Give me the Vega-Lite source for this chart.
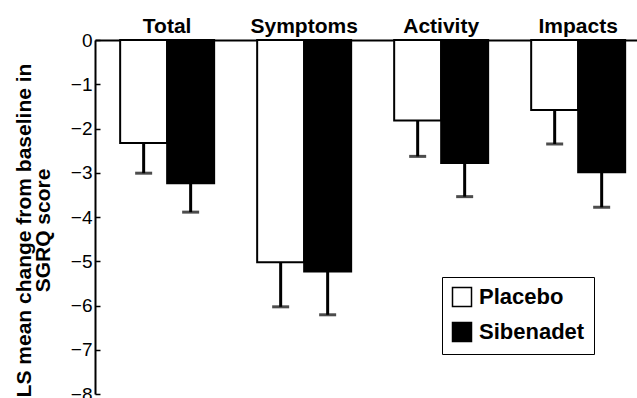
{
  "$schema": "https://vega.github.io/schema/vega-lite/v6.json",
  "autosize": {"type": "none"},
  "padding": {"left": 95, "top": 40, "right": 0, "bottom": 4},
  "width": 542,
  "height": 354,
  "background": "white",
  "config": {
    "view": {"stroke": null},
    "font": "Liberation Sans"
  },
  "data": {
    "values": [
      {"Domain": "Total", "Treatment": "Placebo", "Mean": -2.33, "Lower": -3.01},
      {"Domain": "Total", "Treatment": "Sibenadet", "Mean": -3.24, "Lower": -3.89},
      {"Domain": "Symptoms", "Treatment": "Placebo", "Mean": -5.02, "Lower": -6.03},
      {"Domain": "Symptoms", "Treatment": "Sibenadet", "Mean": -5.23, "Lower": -6.21},
      {"Domain": "Activity", "Treatment": "Placebo", "Mean": -1.82, "Lower": -2.63},
      {"Domain": "Activity", "Treatment": "Sibenadet", "Mean": -2.78, "Lower": -3.54},
      {"Domain": "Impacts", "Treatment": "Placebo", "Mean": -1.58, "Lower": -2.35},
      {"Domain": "Impacts", "Treatment": "Sibenadet", "Mean": -2.99, "Lower": -3.78}
    ]
  },
  "encoding": {
    "x": {
      "field": "Domain",
      "type": "nominal",
      "sort": ["Total", "Symptoms", "Activity", "Impacts"],
      "scale": {"paddingInner": 0.314, "paddingOuter": 0.135, "align": 0.68},
      "axis": {
        "orient": "top",
        "title": null,
        "labelAngle": 0,
        "ticks": false,
        "domainColor": "black",
        "domainWidth": 2,
        "labelFont": "Liberation Sans",
        "labelFontSize": 21,
        "labelFontWeight": "bold",
        "labelColor": "black",
        "labelBaseline": "alphabetic",
        "labelPadding": 8
      }
    },
    "xOffset": {
      "field": "Treatment",
      "type": "nominal",
      "sort": ["Placebo", "Sibenadet"],
      "scale": {"paddingInner": 0, "paddingOuter": 0}
    }
  },
  "layer": [
    {
      "mark": {"type": "bar", "stroke": "black", "strokeWidth": 2},
      "encoding": {
        "y": {
          "field": "Mean",
          "type": "quantitative",
          "scale": {"domain": [-8, 0], "nice": false},
          "axis": {
            "values": [-8, -7, -6, -5, -4, -3, -2, -1, 0],
            "grid": false,
            "domainColor": "black",
            "domainWidth": 2,
            "tickColor": "black",
            "tickSize": -5,
            "tickWidth": 1.5,
            "labelPadding": 8,
            "labelFont": "Liberation Sans",
            "labelFontSize": 19,
            "labelColor": "black",
            "title": ["LS mean change from baseline in", "SGRQ score"],
            "titleFont": "Liberation Sans",
            "titleFontSize": 21,
            "titleFontWeight": "bold",
            "titleColor": "black",
            "titleLineHeight": 19,
            "titlePadding": 17,
            "titleY": 190
          }
        },
        "fill": {
          "field": "Treatment",
          "type": "nominal",
          "sort": ["Placebo", "Sibenadet"],
          "scale": {"domain": ["Placebo", "Sibenadet"], "range": ["white", "black"]},
          "legend": {
            "title": null,
            "orient": "none",
            "legendX": 347,
            "legendY": 237,
            "strokeColor": "black",
            "padding": 9,
            "symbolType": "square",
            "symbolSize": 361,
            "symbolStrokeColor": "black",
            "symbolStrokeWidth": 1.5,
            "labelFont": "Liberation Sans",
            "labelFontSize": 22,
            "labelFontWeight": "bold",
            "labelColor": "black",
            "labelOffset": 6,
            "rowPadding": 9
          }
        }
      }
    },
    {
      "mark": {"type": "rule", "color": "black", "strokeWidth": 3},
      "encoding": {
        "y": {"field": "Mean", "type": "quantitative"},
        "y2": {"field": "Lower"}
      }
    },
    {
      "mark": {"type": "tick", "color": "black", "thickness": 3, "size": 17},
      "encoding": {
        "y": {"field": "Lower", "type": "quantitative"}
      }
    }
  ]
}
